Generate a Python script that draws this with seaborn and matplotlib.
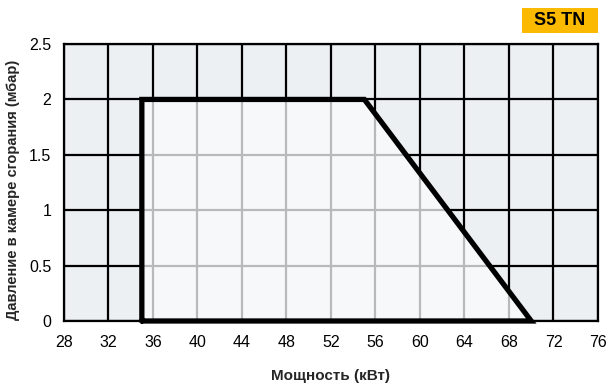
import numpy as np
import pandas as pd
import matplotlib
matplotlib.use('Agg')
import matplotlib.pyplot as plt
import seaborn as sns
from matplotlib.patches import Polygon, Rectangle

# working range of the burner
power = [35, 35, 55, 70, 35]
pressure = [0, 2, 2, 0, 0]
x_ticks = [28, 32, 36, 40, 44, 48, 52, 56, 60, 64, 68, 72, 76]
y_ticks = [0, 0.5, 1, 1.5, 2, 2.5]
y_labels = ['0', '0.5', '1', '1.5', '2', '2.5']
badge = 'S5 TN'

sns.set_style('white', {'axes.facecolor': '#edf0f3'})
plt.rcParams['font.family'] = ['Liberation Sans', 'DejaVu Sans']

fig = plt.figure(figsize=(6.11, 3.83), dpi=100)
ax = fig.add_axes([0.1047, 0.1619, 0.8740, 0.7231])

df = pd.DataFrame({'power': power, 'pressure': pressure})

ax.set_xlim(28, 76)
ax.set_ylim(0, 2.5)
ax.set_xticks(x_ticks)
ax.set_yticks(y_ticks)
ax.set_yticklabels(y_labels)
ax.grid(True, color='black', linewidth=1.6, zorder=1)
ax.set_axisbelow(True)

# lighter fill inside the working range (grid shows through as grey)
ax.add_patch(Polygon(df[['power', 'pressure']].values, closed=True,
                     facecolor='#fafbfd', edgecolor='none', alpha=0.74, zorder=2))
sns.lineplot(data=df, x='power', y='pressure', sort=False, color='black',
             linewidth=3.8, ax=ax, zorder=3, estimator=None)
for ln in ax.lines:
    ln.set_solid_joinstyle('miter')
    ln.set_clip_on(False)

for s in ax.spines.values():
    s.set_color('black')
    s.set_linewidth(1.6)
ax.tick_params(axis='both', direction='out', length=6, width=1.6,
               colors='black', labelsize=11.5)
ax.tick_params(axis='x', pad=4)
ax.tick_params(axis='y', pad=3)

ax.set_xlabel('Мощность (кВт)', fontsize=11, fontweight='bold')
ax.xaxis.set_label_coords(0.5, -0.175)
ax.set_ylabel('Давление в камере сгорания (мбар)', fontsize=10.5,
              fontweight='bold')
ax.yaxis.set_label_coords(-0.083, 0.475)

fig.patches.append(Rectangle((522 / 611, 1 - 33 / 383), 76 / 611, 25 / 383,
                             transform=fig.transFigure, facecolor='#fbb900',
                             edgecolor='none'))
fig.text(560 / 611, 1 - 20.5 / 383, badge, ha='center', va='center',
         fontsize=13, fontweight='bold', color='black')

fig.savefig('out.png', dpi=100)
